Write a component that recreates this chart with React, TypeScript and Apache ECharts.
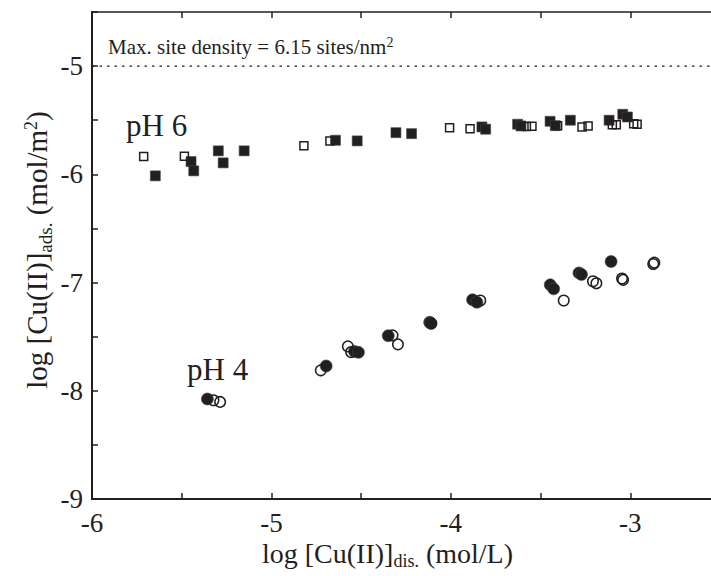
import React, { useEffect, useRef } from "react";
import * as echarts from "echarts";

const FONT = "'Liberation Serif', 'Times New Roman', serif";
const INK = "#231f20";

const xRange = [-6, -2.5];
const yRange = [-9, -4.5];
const maxDensityLevel = -5;

// pH 6, filled squares [log Cu dis, log Cu ads]
const pH6Filled: [number, number][] = [
  [-5.647, -6.014], [-5.448, -5.882], [-5.433, -5.968], [-5.296, -5.783],
  [-5.269, -5.894], [-5.152, -5.783], [-4.643, -5.685], [-4.522, -5.691],
  [-4.306, -5.615], [-4.219, -5.624], [-3.827, -5.562], [-3.806, -5.583],
  [-3.628, -5.537], [-3.609, -5.553], [-3.447, -5.51], [-3.418, -5.55],
  [-3.334, -5.5], [-3.118, -5.5], [-3.042, -5.445], [-3.016, -5.47],
];
// pH 6, open squares
const pH6Open: [number, number][] = [
  [-5.712, -5.836], [-5.485, -5.832], [-4.819, -5.735], [-4.674, -5.691],
  [-4.007, -5.569], [-3.893, -5.578], [-3.579, -5.559], [-3.548, -5.556],
  [-3.405, -5.55], [-3.269, -5.562], [-3.235, -5.553], [-3.1, -5.541],
  [-3.078, -5.541], [-2.981, -5.532], [-2.962, -5.537],
];
// pH 4, filled circles
const pH4Filled: [number, number][] = [
  [-5.357, -8.076], [-4.695, -7.771], [-4.537, -7.636], [-4.515, -7.645],
  [-4.349, -7.491], [-4.118, -7.367], [-4.112, -7.375], [-3.879, -7.159],
  [-3.855, -7.182], [-3.446, -7.021], [-3.427, -7.058], [-3.286, -6.911],
  [-3.272, -6.925], [-3.107, -6.806],
];
// pH 4, open circles
const pH4Open: [number, number][] = [
  [-5.323, -8.088], [-5.286, -8.103], [-4.725, -7.811], [-4.574, -7.59],
  [-4.556, -7.642], [-4.325, -7.488], [-4.295, -7.571], [-4.109, -7.378],
  [-3.836, -7.166], [-3.371, -7.166], [-3.208, -6.988], [-3.189, -7.006],
  [-3.046, -6.963], [-3.04, -6.975], [-2.866, -6.816], [-2.872, -6.828],
];

const maxText = "{a|Max. site density = 6.15 sites/nm}{p|2}";
const xTitle = "{a|log [Cu(II)]}{s|dis.}{a| (mol/L)}";
const yTitle = "{a|log [Cu(II)]}{s|ads.}{a| (mol/m}{p|2}{a|)}";
const pH6Label = "pH 6";
const pH4Label = "pH 4";

const labelFmt = (v: number) => (Math.abs(v - Math.round(v)) < 1e-9 ? String(Math.round(v)) : "");

export default function App() {
  const ref = useRef<HTMLDivElement>(null);
  useEffect(() => {
    document.body.style.margin = "0";
    if (!ref.current) return;
    const chart = echarts.init(ref.current, undefined, { renderer: "svg" });

    const xRich = {
      a: { fontSize: 28, fontFamily: FONT, fill: INK },
      s: { fontSize: 18, fontFamily: FONT, fill: INK, padding: [16, 0, 0, 0] },
    };
    const yRich = {
      a: { fontSize: 29, fontFamily: FONT, fill: INK },
      s: { fontSize: 19, fontFamily: FONT, fill: INK, padding: [17, 0, 0, 0] },
      p: { fontSize: 18, fontFamily: FONT, fill: INK, padding: [0, 0, 12, 0] },
    };

    const axisCommon = {
      type: "value" as const,
      axisLine: { show: true, lineStyle: { color: INK, width: 2 } },
      axisTick: { show: true, inside: true, length: 6, lineStyle: { color: INK, width: 1.5 } },
      splitLine: { show: false },
      interval: 0.5,
    };

    chart.setOption({
      animation: false,
      backgroundColor: "#ffffff",
      grid: { left: 92, top: 12, right: -9, bottom: 77, containLabel: false, outerBoundsMode: "none" },
      xAxis: [
        {
          ...axisCommon,
          min: xRange[0], max: xRange[1], position: "bottom",
          axisLabel: { formatter: labelFmt, fontSize: 27, fontFamily: FONT, color: INK, margin: 10 },
        },
        {
          ...axisCommon,
          min: xRange[0], max: xRange[1], position: "top",
          axisLine: { show: true, lineStyle: { color: INK, width: 1.5 } },
          axisLabel: { show: false },
        },
      ],
      yAxis: [
        {
          ...axisCommon,
          min: yRange[0], max: yRange[1], position: "left",
          axisLabel: { formatter: labelFmt, fontSize: 27, fontFamily: FONT, color: INK, margin: 9 },
        },
      ],
      series: [
        {
          type: "line",
          data: [[xRange[0], maxDensityLevel], [xRange[1], maxDensityLevel]],
          symbol: "none",
          lineStyle: { color: INK, width: 1.4, type: [2.5, 5] },
          silent: true,
        },
        {
          type: "scatter",
          data: pH6Filled,
          symbol: "rect",
          symbolSize: 10,
          itemStyle: { color: INK, borderColor: "#444", borderWidth: 0.6, opacity: 1 },
        },
        {
          type: "scatter",
          data: pH4Filled,
          symbol: "circle",
          symbolSize: 12,
          itemStyle: { color: INK, borderColor: "#444", borderWidth: 0.6, opacity: 1 },
        },
        {
          type: "scatter",
          data: pH6Open,
          symbol: "rect",
          symbolSize: 8,
          itemStyle: { color: "rgba(255,255,255,0)", borderColor: INK, borderWidth: 1.5, opacity: 1 },
        },
        {
          type: "scatter",
          data: pH4Open,
          symbol: "circle",
          symbolSize: 10.5,
          itemStyle: { color: "rgba(255,255,255,0)", borderColor: INK, borderWidth: 1.5, opacity: 1 },
        },
      ],
      graphic: [
        {
          type: "text", x: 108, y: 47,
          style: {
            text: maxText, align: "left", verticalAlign: "middle",
            rich: {
              a: { fontSize: 21, fontFamily: FONT, fill: INK },
              p: { fontSize: 14, fontFamily: FONT, fill: INK, padding: [0, 0, 9, 0] },
            },
          },
        },
        {
          type: "text", x: 126, y: 125,
          style: { text: pH6Label, fontSize: 31, fontFamily: FONT, fill: INK, align: "left", verticalAlign: "middle" },
        },
        {
          type: "text", x: 187, y: 369,
          style: { text: pH4Label, fontSize: 31, fontFamily: FONT, fill: INK, align: "left", verticalAlign: "middle" },
        },
        {
          type: "text", x: 262, y: 553,
          style: { text: xTitle, align: "left", verticalAlign: "middle", rich: xRich },
        },
        {
          type: "text", x: 37, y: 250, rotation: Math.PI / 2,
          style: { text: yTitle, align: "center", verticalAlign: "middle", rich: yRich },
        },
      ],
    });
    return () => chart.dispose();
  }, []);
  return <div ref={ref} style={{ width: 711, height: 576 }} />;
}
